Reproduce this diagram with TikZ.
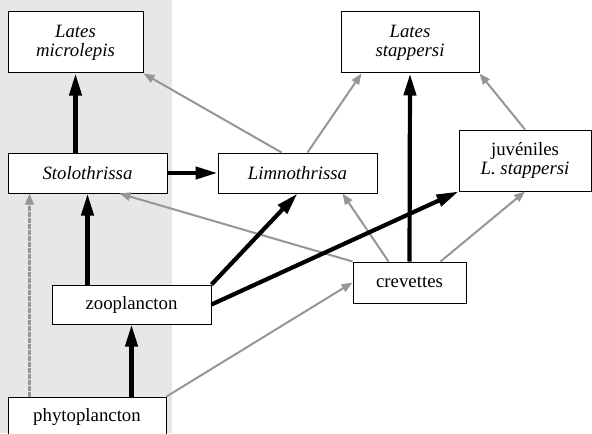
\documentclass[tikz,border=0pt]{standalone}
\usepackage{fontspec}
\setmainfont{Liberation Serif}
\usetikzlibrary{arrows.meta,calc}
\definecolor{bgshade}{RGB}{230,231,233}
\definecolor{lightarr}{RGB}{150,150,150}
\tikzset{
  spbox/.style ={draw=black, fill=white, line width=0.5pt, align=center,
                 inner sep=2pt, font=\fontsize{9.4}{9.4}\selectfont},
  blk/.style   ={-{Triangle[length=11pt,width=6pt]}, line width=2.1pt, draw=black},
  gar/.style   ={-{Triangle[length=5.5pt,width=4.2pt]}, line width=1pt, draw=lightarr, fill=lightarr},
  dgar/.style  ={gar, line width=1.3pt, dash pattern=on 2.1pt off 0.9pt},
}

\begin{document}
\begin{tikzpicture}[x=0.5pt,y=-0.5pt]
\useasboundingbox (0,0) rectangle (592,433);
% shaded column
\fill[bgshade] (0,0) rectangle (172,433);

% species boxes
\node[spbox,minimum width=67.5pt,minimum height=30.5pt] (latesM) at (75.5,42.5) {\textit{Lates}\\\textit{microlepis}};
\node[spbox,minimum width=69pt,minimum height=30.5pt] (latesS) at (410,42.5) {\textit{Lates}\\\textit{stappersi}};
\node[spbox,minimum width=79.5pt,minimum height=20pt] (stolo) at (87.5,173) {\textit{Stolothrissa}};
\node[spbox,minimum width=79.5pt,minimum height=20pt] (limno) at (297.5,173) {\textit{Limnothrissa}};
\node[spbox,minimum width=66pt,minimum height=30.5pt] (juv) at (525,160.5) {juvéniles\\\textit{L. stappersi}};
\node[spbox,minimum width=56.5pt,minimum height=20.5pt] (crev) at (409.5,282.5) {crevettes};
\node[spbox,minimum width=79.5pt,minimum height=19.5pt] (zoo) at (131.5,304.5) {zooplancton};
\node[spbox,minimum width=79pt,minimum height=20pt] (phyto) at (87,417) {phytoplancton};

% weak links
\draw[gar] ($(limno.north)+(-16,0)$) -- (latesM.south east);
\draw[gar] ($(limno.north)+(10,0)$) -- ($(latesS.south west)+(21,0)$);
\draw[gar] (juv.north) -- (latesS.south east);
\draw[gar] (crev.north west) -- ($(stolo.south)+(32,0)$);
\draw[gar] ($(crev.north)+(-21,0)$) -- ($(limno.south)+(45,0)$);
\draw[gar] ($(crev.north east)+(-26,0)$) -- (juv.south);
\draw[gar] (phyto.north east) -- (crev.west);
\draw[dgar] ($(phyto.north west)+(22,0)$) -- ($(stolo.south west)+(22,0)$);

% strong links
\draw[blk] (stolo.north -| latesM.south) -- (latesM.south);
\draw[blk] (stolo.east) -- (limno.west);
\draw[blk] (zoo.north -| stolo.south) -- (stolo.south);
\draw[blk] (phyto.north -| zoo.south) -- (zoo.south);
\draw[blk] (zoo.north east) -- (limno.south);
\draw[blk] (zoo.east) -- (juv.south west);
\draw[blk] (crev.north) -- (latesS.south);
\end{tikzpicture}
\end{document}
